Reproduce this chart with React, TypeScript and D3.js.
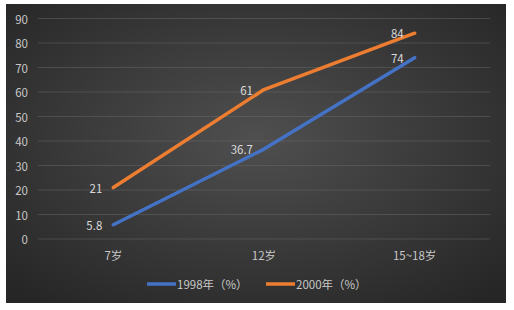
import React from "react"
import * as d3 from "d3"

const categories = ["7岁", "12岁", "15~18岁"]
const series1998 = [5.8, 36.7, 74]
const series2000 = [21, 61, 84]
const yTicks = [0, 10, 20, 30, 40, 50, 60, 70, 80, 90]
const seriesNames = ["1998年（%）", "2000年（%）"]
const seriesColors = ["#4472C4", "#ED7D31"]

const W = 514
const H = 310
const BOX = { x: 6, y: 4, w: 500, h: 299 }
const PLOT = { left: 38, right: 490, top: 18.5, bottom: 239 }
const FONT = "'Noto Sans CJK SC', 'Noto Sans', sans-serif"

export default function App() {
    const xScale = d3
        .scaleBand<string>()
        .domain(categories)
        .range([PLOT.left, PLOT.right])
    const yScale = d3
        .scaleLinear()
        .domain([0, 90])
        .range([PLOT.bottom, PLOT.top])

    const xc = (c: string) => (xScale(c) || 0) + xScale.bandwidth() / 2
    const line = d3
        .line<number>()
        .x((_, i) => xc(categories[i]))
        .y((d) => yScale(d))

    const allSeries = [series1998, series2000]

    return (
        <div style={{ position: "fixed", left: 0, top: 0 }}>
            <svg width={W} height={H} style={{ display: "block" }}>
                <defs>
                    <radialGradient id="bg" cx="0.5" cy="0.45" r="0.7">
                        <stop offset="0" stopColor="#4f4f4f" />
                        <stop offset="1" stopColor="#262626" />
                    </radialGradient>
                </defs>
                <rect width={W} height={H} fill="#fff" />
                <rect x={BOX.x} y={BOX.y} width={BOX.w} height={BOX.h} fill="url(#bg)" />
                {/* grid */}
                {yTicks.map((t) => (
                    <g key={t}>
                        <line
                            x1={PLOT.left}
                            x2={PLOT.right}
                            y1={yScale(t)}
                            y2={yScale(t)}
                            stroke="#6a6a6a"
                            strokeOpacity={0.6}
                            strokeWidth={0.8}
                        />
                        <text
                            x={28}
                            y={yScale(t)}
                            textAnchor="end"
                            dominantBaseline="central"
                            fontSize={11.5}
                            fill="#c8c8c8"
                            fontFamily={FONT}
                        >
                            {t}
                        </text>
                    </g>
                ))}
                {categories.map((c) => (
                    <text
                        key={c}
                        x={xc(c)}
                        y={255}
                        textAnchor="middle"
                        dominantBaseline="central"
                        fontSize={11.5}
                        fill="#c8c8c8"
                        fontFamily={FONT}
                    >
                        {c}
                    </text>
                ))}
                {allSeries.map((s, si) => (
                    <g key={si}>
                        <path
                            d={line(s) || ""}
                            fill="none"
                            stroke={seriesColors[si]}
                            strokeWidth={3.5}
                            strokeLinecap="round"
                            strokeLinejoin="round"
                        />
                        {s.map((v, i) => (
                            <text
                                key={i}
                                x={xc(categories[i]) - 11}
                                y={yScale(v)}
                                textAnchor="end"
                                dominantBaseline="central"
                                fontSize={11.5}
                                fill="#d9d9d9"
                                fontFamily={FONT}
                            >
                                {v}
                            </text>
                        ))}
                    </g>
                ))}
                {/* legend */}
                {seriesNames.map((n, i) => {
                    const lx = 147 + i * 119
                    return (
                        <g key={n}>
                            <line
                                x1={lx}
                                x2={lx + 29}
                                y1={284}
                                y2={284}
                                stroke={seriesColors[i]}
                                strokeWidth={3.5}
                            />
                            <text
                                x={lx + 30}
                                y={284}
                                dominantBaseline="central"
                                fontSize={11.5}
                                fill="#c8c8c8"
                                fontFamily={FONT}
                            >
                                {n}
                            </text>
                        </g>
                    )
                })}
            </svg>
        </div>
    )
}
